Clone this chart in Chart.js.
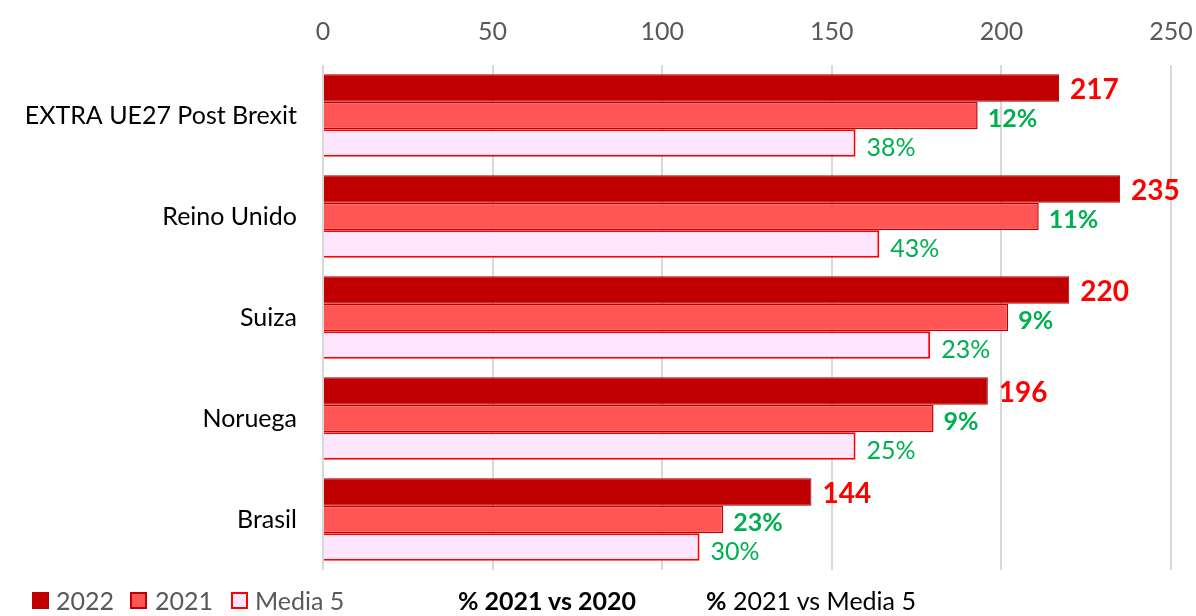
<!DOCTYPE html>
<html>
<head>
<meta charset="utf-8">
<script src="https://cdn.jsdelivr.net/npm/chart.js@4"></script>
<style>
  html, body { margin:0; padding:0; background:#fff; }
  #wrap { position:relative; width:1196px; height:616px; }
  #legend { position:absolute; left:0; top:585px; width:1196px; height:30px; font-family:Lato, sans-serif; font-size:25px; }
  .li { position:absolute; top:0; line-height:30px; white-space:nowrap; }
  .box { position:absolute; top:7px; width:17px; height:17px; box-sizing:border-box; }
</style>
</head>
<body>
<div id="wrap">
  <canvas id="c" width="1196" height="616"></canvas>
  <div id="legend">
    <div class="box" style="left:32px;background:#C00000;"></div>
    <div class="li" style="left:56px;color:#595959;">2022</div>
    <div class="box" style="left:130px;background:#FF5555;border:2px solid #C00000;"></div>
    <div class="li" style="left:155px;color:#595959;">2021</div>
    <div class="box" style="left:231px;background:#FFE6FF;border:2px solid #FF0000;"></div>
    <div class="li" style="left:255px;color:#595959;">Media 5</div>
    <div class="li" style="left:458px;color:#000;font-weight:bold;">% 2021 vs 2020</div>
    <div class="li" style="left:706px;color:#000;"><b>%</b> 2021 vs Media 5</div>
  </div>
</div>
<script>
const categories = ['EXTRA UE27 Post Brexit', 'Reino Unido', 'Suiza', 'Noruega', 'Brasil'];
const values2022 = [217, 235, 220, 196, 144];
const values2021 = [193, 211, 202, 180, 118];
const valuesMedia5 = [157, 164, 179, 157, 111];
const pctVs2020 = ['12%', '11%', '9%', '9%', '23%'];
const pctVsMedia5 = ['38%', '43%', '23%', '25%', '30%'];
const xTicks = [0, 50, 100, 150, 200, 250];

const labelPlugin = {
  id: 'barLabels',
  afterDatasetsDraw(chart) {
    const ctx = chart.ctx;
    const specs = [
      { texts: values2022.map(String), font: 'bold 28px Lato', color: '#FF0000', dx: 11, dy: 2 },
      { texts: pctVs2020, font: 'bold 25px Lato', color: '#00B050', dx: 10, dy: 3 },
      { texts: pctVsMedia5, font: '25px Lato', color: '#00B050', dx: 11, dy: 5 }
    ];
    ctx.save();
    ctx.textAlign = 'left';
    ctx.textBaseline = 'middle';
    specs.forEach((s, d) => {
      const meta = chart.getDatasetMeta(d);
      meta.data.forEach((el, i) => {
        ctx.font = s.font;
        ctx.fillStyle = s.color;
        ctx.fillText(s.texts[i], el.x + s.dx, el.y + s.dy);
      });
    });
    ctx.restore();
  }
};

new Chart(document.getElementById('c'), {
  type: 'bar',
  data: {
    labels: categories,
    datasets: [
      { label: '2022', data: values2022, backgroundColor: '#C00000', borderColor: '#B00000', borderWidth: 1 },
      { label: '2021', data: values2021, backgroundColor: '#FF5555', borderColor: '#C00000', borderWidth: 1.5 },
      { label: 'Media 5', data: valuesMedia5, backgroundColor: '#FFE6FF', borderColor: '#FF0000', borderWidth: 2 }
    ]
  },
  options: {
    indexAxis: 'y',
    responsive: false,
    devicePixelRatio: 1,
    animation: false,
    layout: { padding: { left: 0, right: 25, top: 0, bottom: 46 } },
    plugins: { legend: { display: false }, tooltip: { enabled: false } },
    datasets: { bar: { categoryPercentage: 0.815, barPercentage: 1.0 } },
    scales: {
      x: {
        position: 'top',
        min: 0, max: 250,
        afterBuildTicks(scale) { scale.ticks = xTicks.map(v => ({ value: v })); },
        afterFit(scale) { scale.height = 65; scale.paddingRight = 0; scale.paddingLeft = 0; },
        grid: { color: '#D9D9D9', lineWidth: 2, drawTicks: false },
        border: { display: false },
        ticks: { color: '#595959', font: { family: 'Lato', size: 25 }, padding: 18 }
      },
      y: {
        afterFit(scale) { scale.width = 323; },
        grid: { display: false, drawTicks: false },
        border: { display: false },
        ticks: { color: '#000', font: { family: 'Lato', size: 25 }, padding: 26 }
      }
    }
  },
  plugins: [labelPlugin]
});
</script>
</body>
</html>
